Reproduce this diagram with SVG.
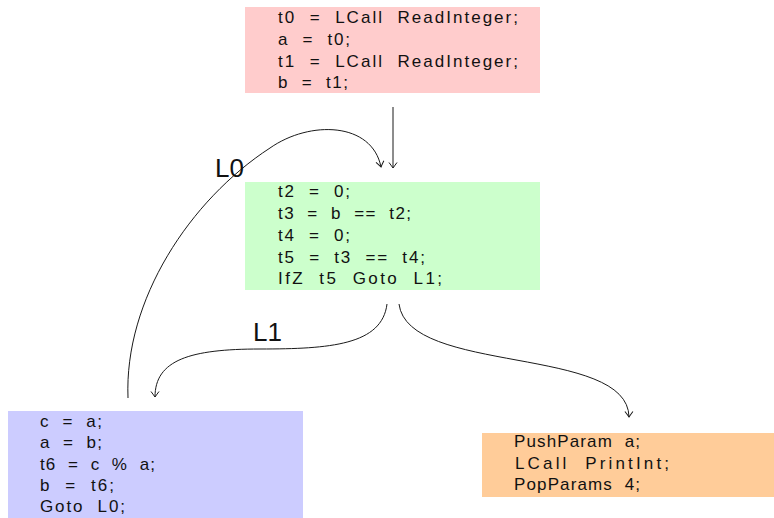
<svg xmlns="http://www.w3.org/2000/svg" width="774" height="518" viewBox="0 0 774 518">
  <style>
    .code { font-family: "Liberation Sans", Arial, sans-serif; font-size: 17px; fill: #111; white-space: pre; }
    .label { font-family: "Liberation Sans", Arial, sans-serif; font-size: 26px; fill: #111; }
    .edge { fill: none; stroke: #1a1a1a; stroke-width: 1; marker-end: url(#to); }
  </style>
  <defs>
    <marker id="to" viewBox="-7 -5 8 10" refX="0" refY="0" markerWidth="8" markerHeight="10" orient="auto" markerUnits="userSpaceOnUse">
      <path d="M-5.5,-4 Q-1.5,-1 0,0 Q-1.5,1 -5.5,4" fill="none" stroke="#1a1a1a" stroke-width="1"/>
    </marker>
  </defs>

  <rect width="774" height="518" fill="#ffffff"/>

  <!-- entry block -->
  <g id="block-entry">
    <rect x="245" y="7" width="295" height="86" fill="#ffcccc"/>
    <text class="code" x="278" y="23" textLength="240" lengthAdjust="spacing">t0  =  LCall  ReadInteger;</text>
    <text class="code" x="278" y="45" textLength="72" lengthAdjust="spacing">a  =  t0;</text>
    <text class="code" x="278" y="67" textLength="240" lengthAdjust="spacing">t1  =  LCall  ReadInteger;</text>
    <text class="code" x="278" y="88" textLength="70" lengthAdjust="spacing">b  =  t1;</text>
  </g>

  <!-- loop test block (L0) -->
  <g id="block-L0">
    <rect x="245" y="182" width="295" height="108" fill="#ccffcc"/>
    <text class="code" x="278" y="197" textLength="72" lengthAdjust="spacing">t2  =  0;</text>
    <text class="code" x="278" y="219" textLength="133" lengthAdjust="spacing">t3  =  b  ==  t2;</text>
    <text class="code" x="278" y="241" textLength="72" lengthAdjust="spacing">t4  =  0;</text>
    <text class="code" x="278" y="263" textLength="147" lengthAdjust="spacing">t5  =  t3  ==  t4;</text>
    <text class="code" x="278" y="284" textLength="164" lengthAdjust="spacing">IfZ  t5  Goto  L1;</text>
  </g>

  <!-- loop body block (L1) -->
  <g id="block-L1">
    <rect x="8" y="411" width="295" height="110" fill="#ccccff"/>
    <text class="code" x="40" y="427" textLength="62" lengthAdjust="spacing">c  =  a;</text>
    <text class="code" x="40" y="448" textLength="62" lengthAdjust="spacing">a  =  b;</text>
    <text class="code" x="40" y="470" textLength="115" lengthAdjust="spacing">t6  =  c  %  a;</text>
    <text class="code" x="40" y="491" textLength="74" lengthAdjust="spacing">b  =  t6;</text>
    <text class="code" x="40" y="512" textLength="85" lengthAdjust="spacing">Goto  L0;</text>
  </g>

  <!-- exit block -->
  <g id="block-exit">
    <rect x="482" y="433" width="292" height="64" fill="#ffcc99"/>
    <text class="code" x="514" y="447" textLength="126" lengthAdjust="spacing">PushParam  a;</text>
    <text class="code" x="515" y="469" textLength="154" lengthAdjust="spacing">LCall  PrintInt;</text>
    <text class="code" x="514" y="490" textLength="126" lengthAdjust="spacing">PopParams  4;</text>
  </g>

  <!-- control-flow edges -->
  <g id="edges">
    <path class="edge" d="M393,107 L393,168"/>
    <path class="edge" d="M128,398 C124,300 190,200 270,148 C310,120 372,122 381,167"/>
    <path class="edge" d="M387,304 C382,345 330,349 260,349 C190,349 155,360 155,397"/>
    <path class="edge" d="M399,304 C408,375 628,345 629,417"/>
    <text class="label" x="215" y="177">L0</text>
    <text class="label" x="253" y="341">L1</text>
  </g>
</svg>
